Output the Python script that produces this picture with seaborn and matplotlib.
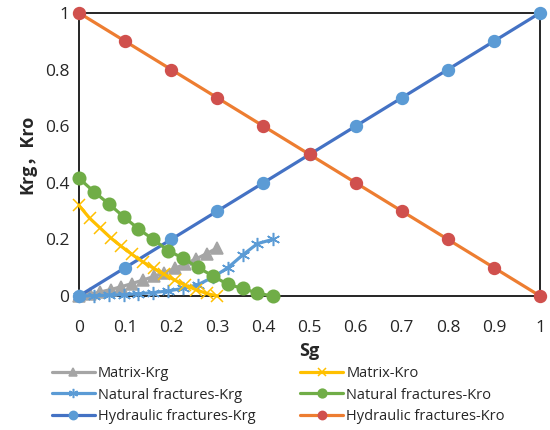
import numpy as np
import pandas as pd
import matplotlib
matplotlib.use("Agg")
import matplotlib.pyplot as plt
import seaborn as sns

# Sg samples for matrix and natural fracture curves (14 points each)
sg_matrix = [0, 0.023, 0.046, 0.069, 0.092, 0.115, 0.138, 0.162, 0.185, 0.208, 0.231, 0.254, 0.277, 0.3]
matrix_krg = [0, 0.006, 0.014, 0.023, 0.033, 0.044, 0.056, 0.069, 0.083, 0.098, 0.114, 0.131, 0.15, 0.17]
matrix_kro = [0.32, 0.275, 0.24, 0.205, 0.175, 0.147, 0.121, 0.098, 0.076, 0.056, 0.038, 0.022, 0.009, 0]

sg_natural = [0, 0.032, 0.065, 0.097, 0.129, 0.161, 0.194, 0.226, 0.258, 0.29, 0.323, 0.355, 0.387, 0.42]
natural_krg = [0, 0.001, 0.003, 0.005, 0.008, 0.012, 0.018, 0.027, 0.04, 0.066, 0.1, 0.145, 0.185, 0.2]
natural_kro = [0.416, 0.369, 0.325, 0.28, 0.237, 0.2, 0.16, 0.133, 0.101, 0.071, 0.041, 0.027, 0.01, 0]

sg_hydraulic = [0, 0.1, 0.2, 0.3, 0.4, 0.5, 0.6, 0.7, 0.8, 0.9, 1.0]
hydraulic_krg = [0, 0.1, 0.2, 0.3, 0.4, 0.5, 0.6, 0.7, 0.8, 0.9, 1.0]
hydraulic_kro = [1.0, 0.9, 0.8, 0.7, 0.6, 0.5, 0.4, 0.3, 0.2, 0.1, 0]

# name, x, y, line colour, marker, marker colour, marker size
series = [
    ("Matrix-Krg", sg_matrix, matrix_krg, "#A5A5A5", "^", "#A5A5A5", 8.5),
    ("Natural fractures-Krg", sg_natural, natural_krg, "#5B9BD5", (6, 2, 0), "#5B9BD5", 9.5),
    ("Hydraulic fractures-Krg", sg_hydraulic, hydraulic_krg, "#4472C4", "o", "#5B9BD5", 8.5),
    ("Matrix-Kro", sg_matrix, matrix_kro, "#FFC000", "x", "#FFC000", 8),
    ("Natural fractures-Kro", sg_natural, natural_kro, "#70AD47", "o", "#70AD47", 9),
    ("Hydraulic fractures-Kro", sg_hydraulic, hydraulic_kro, "#ED7D31", "o", "#D0504D", 8.5),
]

sns.set_style("white")
plt.rcParams["font.family"] = ["Open Sans", "Noto Sans CJK SC", "DejaVu Sans"]

fig = plt.figure(figsize=(5.5, 4.3), dpi=100)
ax = fig.add_axes([0.1436, 0.3116, 0.8384, 0.6584])

for name, xs, ys, lc, mk, mc, ms in series:
    df = pd.DataFrame({"Sg": xs, "K": ys})
    sns.lineplot(data=df, x="Sg", y="K", ax=ax, color=lc, linewidth=2.3,
                 marker=mk, markersize=ms, markerfacecolor=mc, markeredgecolor=mc,
                 markeredgewidth=1.1, label=name, clip_on=False, zorder=3)

ax.set_xlim(0, 1)
ax.set_ylim(0, 1)
ax.set_xticks(np.arange(0, 1.01, 0.1))
ax.set_yticks(np.arange(0, 1.01, 0.2))
ax.set_xticklabels(["0", "0.1", "0.2", "0.3", "0.4", "0.5", "0.6", "0.7", "0.8", "0.9", "1"])
ax.set_yticklabels(["0", "0.2", "0.4", "0.6", "0.8", "1"])
ax.tick_params(length=0, labelsize=12.5)
ax.tick_params(axis="x", pad=17.5)
ax.tick_params(axis="y", pad=7)
for sp in ax.spines.values():
    sp.set_color("black")
    sp.set_linewidth(1.2)
ax.grid(False)

ax.set_xlabel("Sg", fontsize=13, fontweight="bold", labelpad=4)
ax.set_ylabel("Krg，Kro", fontsize=13, fontweight="bold", labelpad=6)

handles, labels = ax.get_legend_handles_labels()
ax.legend(handles, labels, ncol=2, loc="upper left", bbox_to_anchor=(-0.072, -0.228),
          frameon=False, fontsize=10.5, handlelength=2.95, handletextpad=0.2,
          columnspacing=3.1, labelspacing=0.42, borderaxespad=0, markerscale=0.7)

fig.savefig("out.png", dpi=100)
